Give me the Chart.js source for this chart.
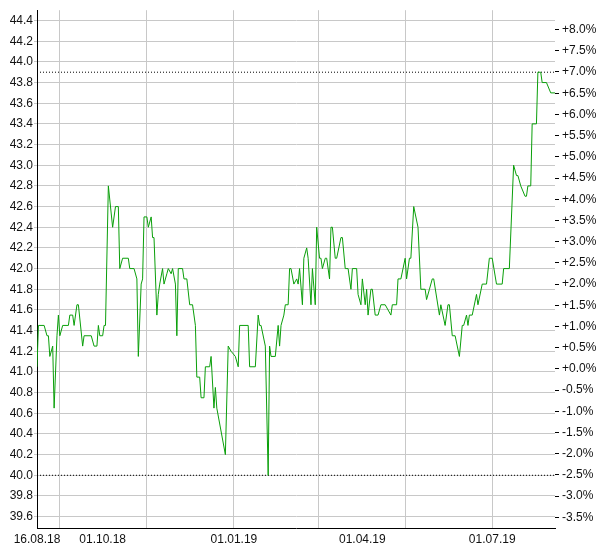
<!DOCTYPE html>
<html>
<head>
<meta charset="utf-8">
<script src="https://cdn.jsdelivr.net/npm/chart.js@4.4.1/dist/chart.umd.min.js"></script>
<style>
  body { margin: 0; background: #fff; }
  #wrap { width: 600px; height: 550px; }
</style>
</head>
<body>
<div id="wrap"><canvas id="kursChart"></canvas></div>
<script>
// closing prices
const dates = [
  '16.08.18','17.08.18','21.08.18','23.08.18','24.08.18','25.08.18','27.08.18','28.08.18','30.08.18','31.08.18',
  '01.09.18','03.09.18','07.09.18','08.09.18','10.09.18','11.09.18','13.09.18','14.09.18','17.09.18','18.09.18',
  '23.09.18','25.09.18','27.09.18','28.09.18','29.09.18','01.10.18','02.10.18','03.10.18','05.10.18','08.10.18',
  '10.10.18','12.10.18','13.10.18','15.10.18','19.10.18','20.10.18','23.10.18','25.10.18','26.10.18','28.10.18',
  '29.10.18','30.10.18','01.11.18','02.11.18','04.11.18','05.11.18','06.11.18','08.11.18','09.11.18','10.11.18',
  '12.11.18','13.11.18','15.11.18','16.11.18','18.11.18','19.11.18','21.11.18','22.11.18','23.11.18','26.11.18',
  '27.11.18','29.11.18','01.12.18','03.12.18','05.12.18','06.12.18','08.12.18','09.12.18','11.12.18','12.12.18',
  '15.12.18','16.12.18','18.12.18','19.12.18','20.12.18','26.12.18','28.12.18','30.12.18','02.01.19','04.01.19',
  '05.01.19','11.01.19','12.01.19','16.01.19','18.01.19','19.01.19','20.01.19','23.01.19','25.01.19','26.01.19',
  '27.01.19','30.01.19','01.02.19','02.02.19','03.02.19','05.02.19','06.02.19','08.02.19','09.02.19','10.02.19',
  '12.02.19','14.02.19','15.02.19','16.02.19','18.02.19','19.02.19','21.02.19','22.02.19','24.02.19','25.02.19',
  '27.02.19','28.02.19','02.03.19','03.03.19','04.03.19','06.03.19','07.03.19','09.03.19','10.03.19','11.03.19',
  '13.03.19','14.03.19','17.03.19','18.03.19','20.03.19','22.03.19','24.03.19','25.03.19','28.03.19','29.03.19',
  '31.03.19','01.04.19','03.04.19','04.04.19','05.04.19','07.04.19','08.04.19','10.04.19','12.04.19','14.04.19',
  '17.04.19','21.04.19','22.04.19','25.04.19','26.04.19','28.04.19','01.05.19','02.05.19','04.05.19','05.05.19',
  '07.05.19','10.05.19','12.05.19','15.05.19','16.05.19','18.05.19','20.05.19','21.05.19','25.05.19','26.05.19',
  '29.05.19','31.05.19','01.06.19','03.06.19','05.06.19','08.06.19','10.06.19','11.06.19','13.06.19','14.06.19',
  '15.06.19','17.06.19','20.06.19','21.06.19','24.06.19','27.06.19','29.06.19','01.07.19','04.07.19','08.07.19',
  '09.07.19','13.07.19','16.07.19','18.07.19','19.07.19','21.07.19','24.07.19','25.07.19','26.07.19','28.07.19',
  '29.07.19','01.08.19','02.08.19','04.08.19','05.08.19','08.08.19','11.08.19','14.08.19'
];
const prices = [
  41.05, 41.45, 41.45, 41.35, 41.35, 41.15, 41.25, 40.65, 41.35, 41.55,
  41.35, 41.45, 41.45, 41.55, 41.55, 41.45, 41.65, 41.65, 41.25, 41.35,
  41.35, 41.25, 41.25, 41.45, 41.35, 41.35, 41.45, 41.45, 42.80, 42.40,
  42.60, 42.60, 42.00, 42.10, 42.10, 42.00, 42.00, 41.90, 41.15, 41.85,
  41.90, 42.50, 42.50, 42.40, 42.50, 42.30, 42.30, 41.55, 41.75, 41.85,
  42.00, 41.85, 41.95, 42.00, 41.95, 42.00, 41.85, 41.35, 42.00, 42.00,
  41.90, 41.90, 41.65, 41.65, 41.45, 40.95, 40.95, 40.75, 40.75, 41.05,
  41.05, 41.15, 40.65, 40.85, 40.65, 40.20, 41.25, 41.20, 41.15, 41.05,
  41.45, 41.45, 41.05, 41.05, 41.55, 41.45, 41.45, 41.25, 40.00, 41.25,
  41.15, 41.15, 41.45, 41.25, 41.45, 41.55, 41.65, 41.65, 42.00, 42.00,
  41.85, 41.90, 41.85, 42.00, 41.65, 42.10, 42.20, 42.10, 41.65, 42.00,
  41.65, 42.40, 42.10, 42.10, 42.00, 42.10, 42.10, 41.90, 42.40, 42.40,
  42.10, 42.10, 42.30, 42.30, 42.00, 42.00, 41.80, 42.00, 42.00, 41.75,
  41.65, 41.90, 41.65, 41.80, 41.55, 41.80, 41.80, 41.55, 41.55, 41.65,
  41.65, 41.55, 41.65, 41.65, 41.90, 41.90, 42.10, 41.90, 42.10, 42.10,
  42.60, 42.40, 41.80, 41.80, 41.70, 41.80, 41.90, 41.90, 41.55, 41.65,
  41.45, 41.65, 41.65, 41.35, 41.35, 41.15, 41.45, 41.45, 41.55, 41.45,
  41.55, 41.55, 41.75, 41.65, 41.85, 41.85, 42.10, 42.10, 41.85, 41.85,
  42.00, 42.00, 43.00, 42.90, 42.90, 42.80, 42.70, 42.70, 42.80, 42.80,
  43.40, 43.40, 43.90, 43.90, 43.80, 43.80, 43.70, 43.70
];

const firstDate = '16.08.18';
const lastDate = '14.08.19';
const gridDates = ['01.09.18', '01.11.18', '01.01.19', '01.03.19', '01.05.19', '01.07.19'];
const labelDates = ['16.08.18', '01.10.18', '01.01.19', '01.04.19', '01.07.19'];

const refPrice = 41.03;          // price that is 0.0 % on the right axis
const priceMin = 39.49;
const priceMax = 44.5;

function dayNo(s) {
    const [d, m, y] = s.split('.').map(Number);
    const [d0, m0, y0] = firstDate.split('.').map(Number);
    return Math.round((Date.UTC(2000 + y, m - 1, d) - Date.UTC(2000 + y0, m0 - 1, d0)) / 86400000);
}

const xMin = dayNo(firstDate);
const xMax = dayNo(lastDate);
const gridDays = gridDates.map(dayNo);
const labelDays = labelDates.map(dayNo);
const xTicks = [...new Set(gridDays.concat(labelDays))].sort((a, b) => a - b);

const lo = Math.min(...prices);
const hi = Math.max(...prices);

const font = { family: '"Liberation Sans", Arial, sans-serif', size: 12 };
const textColor = '#111';

const ctx = document.getElementById('kursChart').getContext('2d');
new Chart(ctx, {
    type: 'line',
    data: {
        datasets: [{
            data: dates.map((d, i) => ({ x: dayNo(d), y: prices[i] })),
            borderColor: '#0a9f0a',
            borderWidth: 1,
            pointRadius: 0,
            tension: 0,
            yAxisID: 'y',
            order: 0
        }, {
            data: [{ x: xMin, y: hi }, { x: xMax, y: hi }],
            borderColor: '#000',
            borderWidth: 1,
            borderDash: [1, 2],
            pointRadius: 0,
            yAxisID: 'y',
            order: 1
        }, {
            data: [{ x: xMin, y: lo }, { x: xMax, y: lo }],
            borderColor: '#000',
            borderWidth: 1,
            borderDash: [1, 2],
            pointRadius: 0,
            yAxisID: 'y',
            order: 1
        }]
    },
    options: {
        responsive: true,
        maintainAspectRatio: false,
        animation: false,
        layout: { padding: { top: 10, left: 0, right: 0, bottom: 0 } },
        plugins: {
            legend: { display: false },
            tooltip: { enabled: false }
        },
        scales: {
            x: {
                type: 'linear',
                min: xMin,
                max: xMax,
                afterBuildTicks: s => { s.ticks = xTicks.map(v => ({ value: v })); },
                afterFit: s => { s.height = 22; },
                grid: {
                    color: c => (c.tick && gridDays.includes(c.tick.value)) ? '#c8c8c8' : 'rgba(0,0,0,0)',
                    drawTicks: false
                },
                border: { color: '#000' },
                ticks: {
                    autoSkip: false,
                    maxRotation: 0,
                    padding: 4,
                    color: textColor,
                    font: font,
                    callback: v => labelDays.includes(v) ? labelDates[labelDays.indexOf(v)] : ''
                }
            },
            y: {
                position: 'left',
                min: priceMin,
                max: priceMax,
                afterFit: s => { s.width = 37; },
                grid: { color: '#c8c8c8', tickLength: 3 },
                border: { color: '#000' },
                ticks: {
                    stepSize: 0.2,
                    includeBounds: false,
                    padding: 1,
                    color: textColor,
                    font: font,
                    callback: v => v.toFixed(1)
                }
            },
            y2: {
                position: 'right',
                min: (priceMin / refPrice - 1) * 100,
                max: (priceMax / refPrice - 1) * 100,
                afterFit: s => { s.width = 45; },
                grid: { drawOnChartArea: false, tickLength: 4, color: '#000' },
                border: { display: false },
                ticks: {
                    stepSize: 0.5,
                    includeBounds: false,
                    padding: 3,
                    color: textColor,
                    font: font,
                    callback: v => (v > -0.001 ? '+' : '-') + Math.abs(v).toFixed(1) + '%'
                }
            }
        }
    }
});
</script>
</body>
</html>
